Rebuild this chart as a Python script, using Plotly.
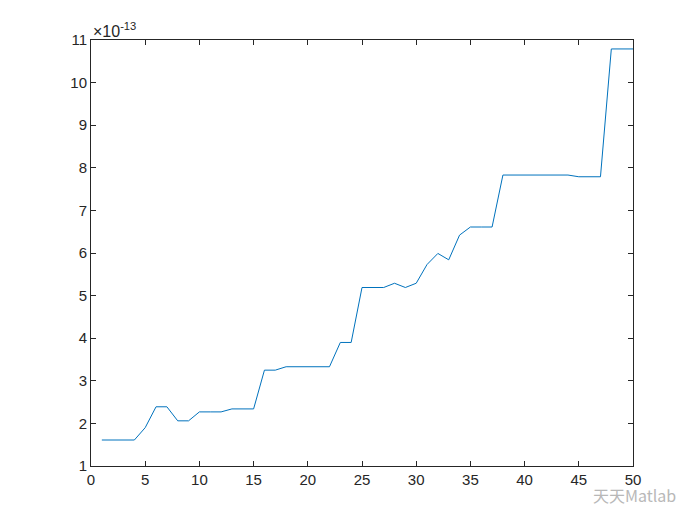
import plotly.graph_objects as go

x_vals = list(range(1, 51))
y_vals = [1.61, 1.61, 1.61, 1.61, 1.90, 2.39, 2.39, 2.06, 2.06, 2.27,
          2.27, 2.27, 2.34, 2.34, 2.34, 3.25, 3.25, 3.33, 3.33, 3.33,
          3.33, 3.33, 3.90, 3.90, 5.19, 5.19, 5.19, 5.29, 5.19, 5.29,
          5.73, 5.99, 5.84, 6.42, 6.61, 6.61, 6.61, 7.83, 7.83, 7.83,
          7.83, 7.83, 7.83, 7.83, 7.79, 7.79, 7.79, 10.79, 10.79, 10.79]
x_ticks = list(range(0, 51, 5))
y_ticks = list(range(1, 12))
exponent_label = "×10<sup>-13</sup>"
watermark = "天天Matlab"

fig = go.Figure()
fig.add_trace(go.Scatter(x=x_vals, y=y_vals, mode="lines",
                         line=dict(color="#0072BD", width=1)))

axis_common = dict(showgrid=False, zeroline=False, showline=True, linecolor="#262626",
                   linewidth=1, mirror="ticks", ticks="inside", ticklen=5,
                   tickcolor="#262626", tickfont=dict(family="Liberation Sans, Arial", size=15, color="#262626"))

fig.update_layout(
    width=700, height=525,
    margin=dict(l=83, r=75, t=32, b=67),
    plot_bgcolor="white", paper_bgcolor="white",
    showlegend=False,
    xaxis=dict(range=[0, 50], tickvals=x_ticks, **axis_common),
    yaxis=dict(range=[1, 11], tickvals=y_ticks, **axis_common),
)
fig.add_annotation(xref="paper", yref="paper", x=0, y=1, xanchor="left", yanchor="bottom",
                   text=exponent_label, showarrow=False, yshift=-2,
                   font=dict(family="Liberation Sans, Arial", size=16, color="#262626"))
fig.add_annotation(xref="paper", yref="paper", x=1.083, y=-0.068, xanchor="right", yanchor="middle",
                   text=watermark, showarrow=False,
                   font=dict(family="Noto Sans CJK SC", size=16, color="#b8b8b8"))

fig.write_html("out.html")
